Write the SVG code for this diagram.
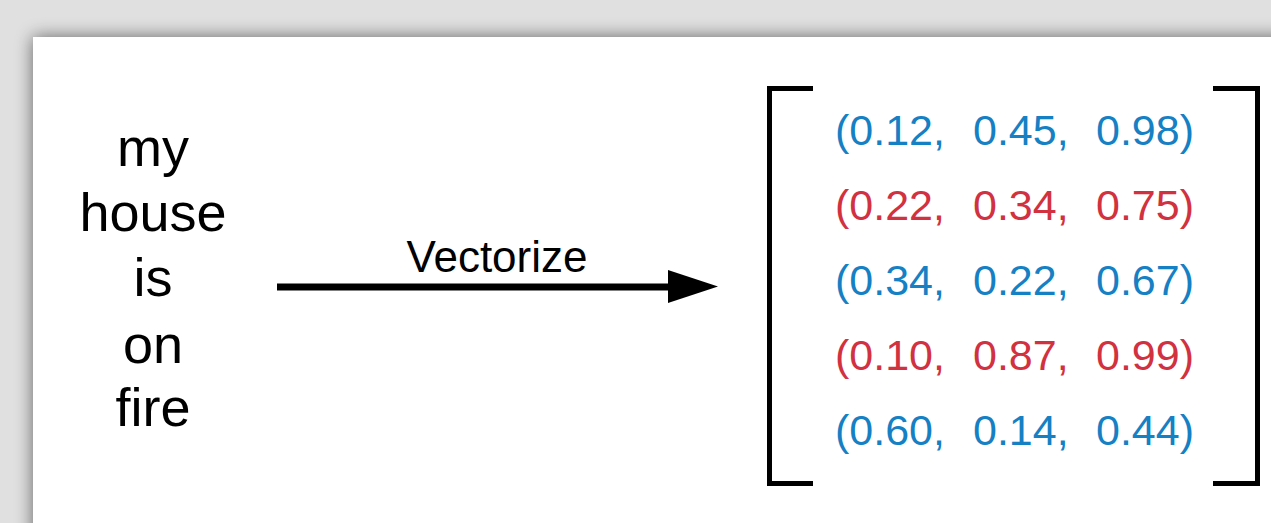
<svg xmlns="http://www.w3.org/2000/svg" width="1271" height="523" viewBox="0 0 1271 523">
  <defs>
    <filter id="panelShadow" x="-10%" y="-20%" width="120%" height="140%">
      <feGaussianBlur stdDeviation="9"/>
    </filter>
  </defs>
  <style>
    .word { font-family: "Liberation Sans", Arial, sans-serif; font-size: 54px; fill: #000; text-anchor: middle; }
    .label { font-family: "Liberation Sans", Arial, sans-serif; font-size: 44px; fill: #000; text-anchor: middle; }
    .num { font-family: "Liberation Sans", Arial, sans-serif; font-size: 43px; }
    .blue { fill: #1580c4; }
    .red { fill: #d2313f; }
    .bracket { fill: none; stroke: #000; stroke-width: 5; }
  </style>

  <!-- page background and raised panel -->
  <rect x="0" y="0" width="1271" height="523" fill="#e0e0e0"/>
  <rect x="33" y="37" width="1300" height="520" fill="#000" opacity="0.55" filter="url(#panelShadow)"/>
  <rect x="33" y="37" width="1300" height="520" fill="#fff"/>

  <!-- sentence, one word per line -->
  <g id="sentence">
    <text class="word" x="153" y="166">my</text>
    <text class="word" x="153" y="231">house</text>
    <text class="word" x="153" y="296">is</text>
    <text class="word" x="153" y="363">on</text>
    <text class="word" x="153" y="426">fire</text>
  </g>

  <!-- connector: shaft plus filled head -->
  <g id="connectors">
    <line x1="277" y1="287" x2="672" y2="287" stroke="#000" stroke-width="7"/>
    <path d="M668,270 L718,286.5 L668,303 Z" fill="#000"/>
    <text class="label" x="497" y="272">Vectorize</text>
  </g>

  <!-- matrix of word vectors -->
  <g id="matrix">
    <path class="bracket" d="M813,88.5 H769.5 V483.5 H813"/>
    <path class="bracket" d="M1213,88.5 H1257.5 V483.5 H1213"/>
    <g class="num">
      <text class="blue" y="145"><tspan x="835">(0.12,</tspan><tspan x="973">0.45,</tspan><tspan x="1096">0.98)</tspan></text>
      <text class="red" y="220"><tspan x="835">(0.22,</tspan><tspan x="973">0.34,</tspan><tspan x="1096">0.75)</tspan></text>
      <text class="blue" y="295"><tspan x="835">(0.34,</tspan><tspan x="973">0.22,</tspan><tspan x="1096">0.67)</tspan></text>
      <text class="red" y="370"><tspan x="835">(0.10,</tspan><tspan x="973">0.87,</tspan><tspan x="1096">0.99)</tspan></text>
      <text class="blue" y="445"><tspan x="835">(0.60,</tspan><tspan x="973">0.14,</tspan><tspan x="1096">0.44)</tspan></text>
    </g>
  </g>
</svg>
